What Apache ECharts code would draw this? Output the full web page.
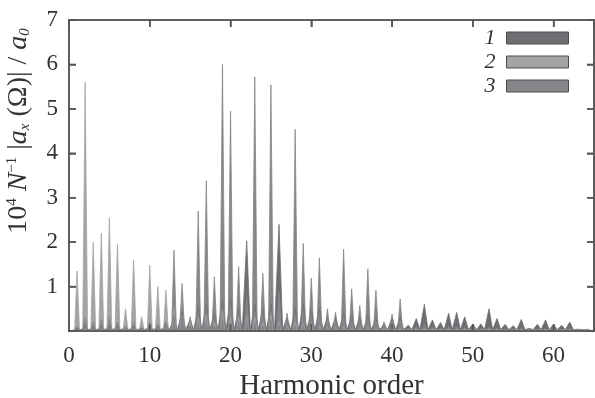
<!DOCTYPE html>
<html><head><meta charset="utf-8">
<script src="https://cdn.jsdelivr.net/npm/echarts@6/dist/echarts.min.js"></script>
<style>html,body{margin:0;padding:0;background:#ffffff}#c{width:595px;height:398px}</style>
</head><body><div id="c"></div>
<script>
// Harmonic orders
const harmonics = [1,2,3,4,5,6,7,8,9,10,11,12,13,14,15,16,17,18,19,20,21,22,23,24,25,26,27,28,29,30,31,32,33,34,35,36,37,38,39,40,41,42,43,44,45,46,47,48,49,50,51,52,53,54,55,56,57,58,59,60,61,62,63,64];
// Series 1 (dark) peak heights
const peaks1 = [0.05,0.1,0.08,0.1,0.12,0.1,0.08,0.1,0.06,0.12,
                0.1,0.15,0.3,0.45,0.25,0.55,0.6,0.4,0.7,0.75,
                0.5,2.03,0.6,0.5,0.6,2.4,0.3,0.5,0.6,0.45,
                0.5,0.3,0.3,0.4,0.35,0.3,0.35,0.3,0.15,0.3,
                0.3,0.13,0.28,0.6,0.25,0.19,0.4,0.42,0.32,0.16,
                0.16,0.5,0.28,0.15,0.12,0.26,0.06,0.15,0.25,0.15,
                0.13,0.2,0.04,0.03];
// Series 2 (light) peak heights
const peaks2 = [1.35,5.6,2.0,2.2,2.55,1.95,0.5,1.6,0.32,1.48,
                1.0,0.92,0.5,0.85,0.2,0.3,0.35,0.2,0.45,0.3,
                0.3,0.35,0.3,0.2,0.35,0.2,0.12,0.2,0.15,0.1,
                0.12,0.08,0.08,0.1,0.06,0.05,0.08,0.05,0.04,0.05,
                0.04,0.04,0.05,0.04,0.04,0.04,0.05,0.04,0.04,0.03,
                0.03,0.04,0.03,0.03,0.03,0.03,0.03,0.03,0.03,0.03,
                0.03,0.03,0.02,0.02];
// Series 3 (medium) peak heights
const peaks3 = [0.1,0.3,0.2,0.25,0.3,0.2,0.1,0.2,0.08,0.2,
                0.15,0.2,1.82,1.07,0.32,2.7,3.38,1.22,6.0,4.95,
                1.45,0.8,5.72,1.3,5.54,0.9,0.4,4.54,1.97,1.19,
                1.65,0.5,0.42,1.84,0.95,0.57,1.4,0.92,0.21,0.38,
                0.72,0.06,0.1,0.15,0.08,0.06,0.1,0.1,0.08,0.05,
                0.05,0.1,0.06,0.05,0.04,0.06,0.03,0.04,0.05,0.04,
                0.03,0.04,0.02,0.02];
const floor1 = 0.03, floor2 = 0.02, floor3 = 0.02;
const seriesNames = ['1','2','3'];
const xTickValues = [0,10,20,30,40,50,60];
const yTickValues = [1,2,3,4,5,6,7];
const xRange = [0, 65];
const yRange = [0, 7];

function spikes(peaks, floor, hw) {
  const pts = [];
  harmonics.forEach((h, i) => { pts.push([h - hw, floor], [h, peaks[i]], [h + hw, floor]); });
  return pts;
}
const FONT = "'Liberation Serif','Times New Roman',serif";
const TEXT = '#333333';
const FRAME = '#555555';
const colors = ['#6d6e71', '#a3a4a6', '#858689'];
const GRID = {left: 69, right: 1, top: 20, bottom: 67};
const W = 595, H = 398;
const chart = echarts.init(document.getElementById('c'));
const mkLine = () => ({show: true, onZero: false, lineStyle: {color: FRAME, width: 1.5}});
const mkTick = () => ({show: true, inside: true, length: 7, lineStyle: {color: FRAME, width: 1.5}});
function mkSeries(name, peaks, floor, hw, color) {
  return {
    name: name, type: 'line', data: spikes(peaks, floor, hw),
    xAxisIndex: 0, yAxisIndex: 0,
    showSymbol: false, symbol: 'none', smooth: false,
    lineStyle: {color: color, width: 0.8}, itemStyle: {color: color},
    areaStyle: {color: color, opacity: 1}
  };
}
const titleText = {
  id: 'ytitle', type: 'text', x: 19, y: 131, rotation: Math.PI / 2,
  style: {
    text: '{n|10}{sup|4}{n| }{i|N}{sup|−1}{n| |}{i|a}{sub|x}{n| (Ω)| / }{i|a}{sub|0}',
    align: 'center', verticalAlign: 'middle', fill: TEXT,
    font: "28px " + FONT,
    rich: {
      n: {fontFamily: FONT, fontSize: 28, lineHeight: 28, fill: TEXT, verticalAlign: 'middle'},
      i: {fontFamily: FONT, fontSize: 28, fontStyle: 'italic', lineHeight: 28, fill: TEXT, verticalAlign: 'middle'},
      sup: {fontFamily: FONT, fontSize: 15, lineHeight: 15, fill: TEXT, verticalAlign: 'top'},
      sub: {fontFamily: FONT, fontSize: 15, fontStyle: 'italic', lineHeight: 15, fill: TEXT, verticalAlign: 'bottom'}
    }
  }
};
chart.setOption({
  animation: false,
  grid: {left: GRID.left, right: GRID.right, top: GRID.top, bottom: GRID.bottom, outerBoundsMode: 'none', containLabel: false},
  legend: {
    data: seriesNames, orient: 'vertical', right: 26, top: 27, align: 'right', padding: 0,
    itemWidth: 62, itemHeight: 12, itemGap: 2, icon: 'rect',
    itemStyle: {borderColor: '#4d4d4d', borderWidth: 1},
    textStyle: {fontFamily: FONT, fontStyle: 'italic', fontSize: 22, color: TEXT, padding: [0, 6, 0, 0]}
  },
  xAxis: [{
    type: 'value', min: xRange[0], max: xRange[1], interval: 10, position: 'bottom',
    axisLine: mkLine(), axisTick: mkTick(), splitLine: {show: false},
    axisLabel: {fontFamily: FONT, fontSize: 23, color: TEXT, margin: 13, showMaxLabel: false,
      formatter: v => xTickValues.includes(v) ? String(v) : ''},
    name: 'Harmonic order', nameLocation: 'middle', nameGap: 38,
    nameTextStyle: {fontFamily: FONT, fontSize: 29, color: TEXT}
  }, {
    type: 'value', min: xRange[0], max: xRange[1], interval: 10, position: 'top',
    axisLine: mkLine(), axisTick: mkTick(), splitLine: {show: false}, axisLabel: {show: false}
  }],
  yAxis: [{
    type: 'value', min: yRange[0], max: yRange[1], interval: 1, position: 'left',
    axisLine: mkLine(), axisTick: mkTick(), splitLine: {show: false},
    axisLabel: {fontFamily: FONT, fontSize: 23, color: TEXT, margin: 11,
      formatter: v => yTickValues.includes(v) ? String(v) : ''}
  }, {
    type: 'value', min: yRange[0], max: yRange[1], interval: 1, position: 'right',
    axisLine: mkLine(), axisTick: mkTick(), splitLine: {show: false}, axisLabel: {show: false}
  }],
  graphic: [titleText],
  series: [
    mkSeries('1', peaks1, floor1, 0.45, colors[0]),
    mkSeries('2', peaks2, floor2, 0.3, colors[1]),
    mkSeries('3', peaks3, floor3, 0.3, colors[2])
  ]
});

// Frame drawn as thin filled bars around the grid, ticks placed through the axis scales
const gx0 = GRID.left, gx1 = W - GRID.right, gy0 = GRID.top, gy1 = H - GRID.bottom;
const LW = 1.5, TL = 7;
const bar = (id, x, y, w, h) => ({id: id, type: 'rect', z: 50, silent: true,
  shape: {x: x, y: y, width: w, height: h}, style: {fill: FRAME}});
const els = [titleText,
  bar('fT', gx0 - LW / 2, gy0 - LW / 2, gx1 - gx0 + LW, LW),
  bar('fB', gx0 - LW / 2, gy1 - LW / 2, gx1 - gx0 + LW, LW),
  bar('fL', gx0 - LW / 2, gy0 - LW / 2, LW, gy1 - gy0 + LW),
  bar('fR', gx1 - LW / 2, gy0 - LW / 2, LW, gy1 - gy0 + LW)
];
function xPix(v) {
  let p;
  try { p = chart.convertToPixel({xAxisIndex: 0}, v); } catch (e) { p = undefined; }
  if (typeof p !== 'number' || !isFinite(p)) p = gx0 + (v - xRange[0]) / (xRange[1] - xRange[0]) * (gx1 - gx0);
  return p;
}
function yPix(v) {
  let p;
  try { p = chart.convertToPixel({yAxisIndex: 0}, v); } catch (e) { p = undefined; }
  if (typeof p !== 'number' || !isFinite(p)) p = gy1 - (v - yRange[0]) / (yRange[1] - yRange[0]) * (gy1 - gy0);
  return p;
}
xTickValues.forEach((v, k) => {
  if (v <= xRange[0] || v >= xRange[1]) return;
  const x = xPix(v);
  els.push(bar('xb' + k, x - LW / 2, gy1 - TL, LW, TL));
  els.push(bar('xt' + k, x - LW / 2, gy0, LW, TL));
});
yTickValues.forEach((v, k) => {
  if (v <= yRange[0] || v >= yRange[1]) return;
  const y = yPix(v);
  els.push(bar('yl' + k, gx0, y - LW / 2, TL, LW));
  els.push(bar('yr' + k, gx1 - TL, y - LW / 2, TL, LW));
});
chart.setOption({graphic: els});
</script></body></html>
